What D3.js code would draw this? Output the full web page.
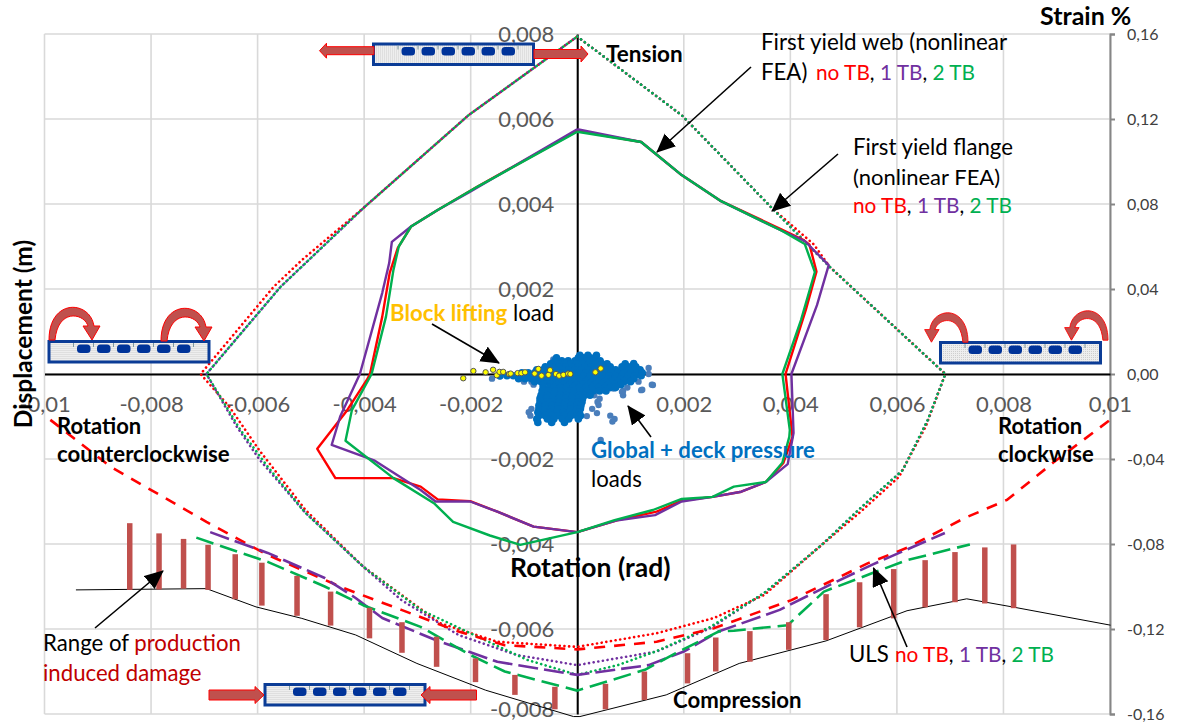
<!DOCTYPE html>
<html><head><meta charset="utf-8">
<script src="https://cdn.jsdelivr.net/npm/d3@7"></script>
<style>html,body{margin:0;padding:0;background:#fff}svg{display:block}text{font-family:Lato,"Open Sans",sans-serif}</style>
</head><body><svg id="c" width="1183" height="724"></svg>
<script>
// ---- axes ----
const xTicks=[-10,-8,-6,-4,-2,0,2,4,6,8,10];
const xTickLabels=["-0,01","-0,008","-0,006","-0,004","-0,002","0","0,002","0,004","0,006","0,008","0,01"];
const yTicks=[8,6,4,2,-2,-4,-6,-8];
const yTickLabels=["0,008","0,006","0,004","0,002","-0,002","-0,004","-0,006","-0,008"];
const strainTicks=[0.16,0.12,0.08,0.04,0,-0.04,-0.08,-0.12,-0.16];
const strainTickLabels=["0,16","0,12","0,08","0,04","0,00","-0,04","-0,08","-0,12","-0,16"];
// ---- first yield web, [rotation, displacement] in 0.001 units ----
const webNoTB=[[0,5.72],[1.2,5.46],[1.96,4.68],[2.68,4.08],[3.84,3.4],[4.25,3.15],[4.36,3.04],[4.49,2.41],[4.29,1.51],[3.91,0],[4.04,-1.48],[3.87,-2.09],[3.54,-2.54],[3.08,-2.77],[2.54,-2.89],[1.96,-2.98],[1.49,-3.24],[0.76,-3.44],[0,-3.72],[-0.82,-3.59],[-1.5,-3.24],[-2.01,-2.99],[-2.62,-2.95],[-2.94,-2.65],[-3.45,-2.45],[-4.54,-2.45],[-4.88,-1.76],[-4.34,-0.89],[-3.95,-0.14],[-3.89,0],[-3.66,1.35],[-3.52,2.38],[-3.37,2.96],[-3.12,3.47],[-2.62,3.86],[-1.87,4.41],[0,5.72]];
const web1TB=[[0,5.76],[1.2,5.46],[1.96,4.68],[2.68,4.08],[3.84,3.37],[4.27,3.13],[4.72,2.56],[4.5,1.62],[4.02,0],[4.06,-1.39],[3.95,-2.12],[3.54,-2.54],[3.08,-2.77],[2.54,-2.89],[1.96,-3],[1.46,-3.32],[0.76,-3.44],[0,-3.72],[-0.82,-3.59],[-1.5,-3.24],[-2.01,-3],[-2.66,-3],[-2.94,-2.73],[-3.8,-2.04],[-4.61,-1.67],[-4.45,-1],[-4.08,0],[-3.66,1.91],[-3.53,2.61],[-3.48,3.11],[-3.12,3.47],[-2.62,3.86],[-2.01,4.29],[0,5.76]];
const web2TB=[[0,5.7],[1.2,5.46],[1.96,4.68],[2.68,4.08],[3.84,3.37],[4.27,3.06],[4.46,2.4],[4.2,1.27],[3.85,0],[3.99,-1.32],[3.98,-1.48],[3.85,-2.09],[3.54,-2.54],[2.94,-2.65],[2.54,-2.89],[1.96,-2.94],[1.42,-3.2],[0.7,-3.44],[0,-3.72],[-1.07,-4.02],[-1.64,-3.8],[-2.33,-3.48],[-2.69,-3.04],[-3.45,-2.45],[-4.35,-1.57],[-4.23,-0.85],[-3.86,0],[-3.59,1.35],[-3.45,2.45],[-3.35,3],[-3.12,3.47],[-2.62,3.86],[-1.87,4.41],[0,5.7]];
// ---- first yield flange ----
const flangeNoTB=[[0,7.94],[1.96,6.09],[3.65,3.91],[4.44,3.05],[4.74,2.52],[6.91,0],[6.54,-1.24],[6.04,-2.42],[5.32,-3.24],[4.59,-4.02],[3.51,-5.2],[2.57,-5.74],[1.49,-6.1],[0,-6.42],[-1.5,-6.3],[-2.58,-5.86],[-4.02,-4.53],[-5.1,-3.2],[-5.97,-1.79],[-6.53,-0.77],[-7.07,0],[-5.7,2.05],[-5.17,2.68],[-4.01,3.91],[-2.04,6.09],[0,7.94]];
const flange1TB=[[0,7.94],[1.96,6.09],[3.65,3.91],[4.74,2.52],[6.91,0],[6.58,-1.08],[6.11,-2.26],[5.32,-3.15],[4.59,-4.02],[3.51,-5.15],[2.5,-5.98],[1.49,-6.53],[0,-6.85],[-1.14,-6.61],[-2.23,-6.14],[-3.3,-5.32],[-4.02,-4.53],[-5.1,-3.27],[-5.96,-2.02],[-6.39,-1.24],[-6.96,0],[-5.57,2.05],[-4.01,3.91],[-2.04,6.09],[0,7.94]];
const flange2TB=[[0,7.94],[1.96,6.09],[3.65,3.91],[4.74,2.52],[6.91,0],[6.58,-1.08],[6.11,-2.26],[5.32,-3.15],[4.59,-4.02],[3.51,-5.15],[2.5,-5.95],[1.49,-6.52],[0.76,-6.85],[0,-7.08],[-0.93,-6.73],[-1.87,-6.18],[-2.94,-5.55],[-4.02,-4.53],[-5.1,-3.27],[-5.81,-2.18],[-6.32,-1.32],[-6.96,0],[-5.57,2.05],[-4.01,3.91],[-2.04,6.09],[0,7.94]];
// ---- ULS ----
const ulsNoTB=[[-9.89,-1.08],[-8.76,-2.18],[-6.96,-3.48],[-5.81,-4.26],[-4.38,-5.04],[-3.3,-5.55],[-2.23,-6.06],[-1.36,-6.38],[0,-6.48],[1.49,-6.3],[2.57,-5.98],[4.02,-5.32],[5.46,-4.45],[6.19,-4.09],[7.27,-3.39],[8.07,-2.96],[8.93,-2.09],[10,-1.08]];
const uls1TB=[[-6.89,-3.72],[-5.81,-4.21],[-4.74,-4.8],[-4.16,-5.27],[-3.66,-5.74],[-2.66,-6.26],[-1.5,-6.77],[0,-7.08],[1.34,-6.85],[2,-6.53],[2.65,-6.06],[3.8,-5.55],[4.74,-4.96],[5.53,-4.49],[6.9,-3.74]];
const uls2TB=[[-7.15,-3.85],[-5.81,-4.42],[-4.74,-5],[-4.02,-5.44],[-2.94,-5.95],[-2.01,-6.61],[-1.36,-7],[0,-7.45],[1.27,-6.96],[1.85,-6.57],[2.65,-6.06],[2.94,-6.04],[3.95,-5.91],[4.63,-5.12],[5.53,-4.69],[6.19,-4.38],[7.37,-4.01]];
const lowerBound=[[-9.41,-5.08],[-6.96,-5.05],[-6.03,-5.48],[-5.17,-5.75],[-4.16,-6.14],[-3.01,-6.81],[-1.72,-7.44],[-0.07,-8.06],[0.05,-8.06],[1.67,-7.55],[3.04,-6.81],[4.67,-6.28],[6.19,-5.57],[7.31,-5.29],[8.21,-5.49],[10.01,-5.91]];
// ---- production damage range: [rotation, top, bottom] ----
const damageRange=[[-8.4,-3.51,-5.08],[-7.85,-3.75,-5.07],[-7.39,-3.88,-5.05],[-6.93,-4.02,-5.08],[-6.42,-4.24,-5.3],[-5.92,-4.44,-5.45],[-5.26,-4.75,-5.69],[-4.63,-5.12,-5.92],[-3.9,-5.5,-6.22],[-3.29,-5.84,-6.56],[-2.64,-6.18,-6.89],[-1.91,-6.69,-7.25],[-1.17,-7.08,-7.55],[-0.42,-7.36,-7.89],[0.53,-7.29,-7.89],[1.26,-7,-7.67],[2.07,-6.57,-7.28],[2.6,-6.2,-7],[3.24,-6.05,-6.77],[3.97,-5.84,-6.49],[4.67,-5.18,-6.26],[5.3,-4.9,-5.96],[5.94,-4.59,-5.75],[6.53,-4.38,-5.49],[7.09,-4.19,-5.37],[7.65,-4.08,-5.4],[8.19,-4.01,-5.51]];
// ---- load scatter, rows of [displacement, rotations] in 0.0001 units ----
const globalRows=[
[4.4,[0.5,2,3.6]],[3.8,[-3.9,0.2,1.2,2.4,3.3]],[3.1,[-4.2,-2.9,-1.7,-0.4,0.6,1.8,3,4.3]],
[2.4,[-5,-3.6,-2.4,-1.2,-0.2,1,2.2,3.4,4.6,5.6,9,10.6]],
[1.7,[-6,-4.6,-3.4,-2.2,-1,0.2,1.4,2.6,3.8,5,6.2,8.4,9.6,11]],
[1,[-7.6,-6.4,-5.2,-4,-2.8,-1.6,-0.4,0.8,2,3.2,4.4,5.6,6.4,7.2,8.4,9.6,10.8,11.8]],
[0.3,[-10.4,-9.2,-8,-6.8,-5.6,-4.4,-3.2,-2,-0.8,0.4,1.6,2.8,4,5.2,6.4,7.6,8.8,10,11.2,12.2]],
[-0.4,[-14.5,-13.2,-12,-10.8,-9.6,-8.4,-7.2,-6,-4.8,-3.6,-2.4,-1.2,0,1.2,2.4,3.6,4.8,6,7.2,8.4,9.6,10.8,12]],
[-1.1,[-11,-9.8,-8.6,-7.4,-6.2,-5,-3.8,-2.6,-1.4,-0.2,1,2.2,3.4,4.6,5.8,7,8.2,9.4,10.6]],
[-1.8,[-8,-6.8,-5.6,-4.4,-3.2,-2,-0.8,0.4,1.6,2.8,4,5.2,6.4,7.6,8.8,10]],
[-2.5,[-6.4,-5,-3.8,-2.6,-1.4,-0.2,1,2.2,3.4,4.6,5.8,7,8.2]],
[-3.2,[-6.4,-5.2,-4.4,-3.2,-2,-0.8,0.4,1.6,2.8,4,5.2,6.2,7.2]],
[-4,[-6.6,-5.4,-4.2,-3,-1.8,-0.6,0.6,1.8,3,4.2,5.4]],
[-5,[-6.8,-5.6,-4.4,-3.2,-2,-0.8,0.4,1.4,2.4]],[-5.8,[-7,-5.8,-4.6,-3.4,-2.2,-1,0.2,1]],
[-6.6,[-7,-5.8,-4.6,-3.4,-2.2,-1,0.2,0.9]],[-7.4,[-7.2,-6,-4.8,-3.6,-2.4,-1.2,0,0.7]],
[-8.2,[-7.2,-6,-4.8,-3.6,-2.4,-1.2,0,0.6]],[-9,[-7.4,-6.2,-5,-3.8,-2.6,-1.4,-0.2,0.4]],
[-9.8,[-7.2,-6,-4.8,-3.6,-2.4,-1.2,0,0.6]],[-10.6,[-7.6,-5.6,-4.4,-2.8,-1.6,0.2]],[-11.4,[-7.4,-4.8,-2.4]]];
const globalOutliers=[[-4.5,3.4],[-4,2.8],[-3,2.6],[-8.6,-1.8],[-10,-1.8],[-8.2,-2.5],[-14.5,-0.6],[-16,-1.1],[-8.6,-8.2],[-9.1,-9],[-8.8,-9.8],[-7.4,-11],[6.6,-11.2],[4.4,-15.5],[4,-7.3],[3.7,-9.2],[8.4,-4.2],[14.2,-2.6],[12,-3.8],[13.4,0],[10.6,2.6],[13.4,1.4],[9,2.1],[1.8,-9.9],[3.8,-6.6],[4.2,-5.8],[3.2,-5],[8.6,-5],[8.6,-4],[14,-2.5],[12.2,-3.7],[6.2,-9.8],[7,-10.6],[2.8,-8.2],[6.8,-3.4],[9.4,-3.2],[11.5,-1.8]];
const blockLifting=[[-21.4,-1],[-19.5,0.7],[-17.2,0.4],[-15.8,1],[-15.1,-0.3],[-14.6,0.5],[-13.9,0.5],[-12.8,0],[-12.5,0.1],[-11.2,0.2],[-10.5,0.2],[-9.8,0.4],[-8,0.1],[-7.3,1.2],[-6.7,-0.4],[-5.4,-0.2],[-5.1,0.9],[-4,0],[-3.4,-0.4],[-2.6,-0.2],[-1.7,0.1],[-1.3,0],[3.4,0.4],[4.4,1.3]];

const RED="#ff0000",PURPLE="#7030a0",GREEN="#00b050",BROWN="#c0504d",BLUE="#0070c0",NAVY="#0b3c96";
const svg=d3.select("#c");
const x=d3.scaleLinear().domain([-10,10]).range([44.5,1110]);
const y=d3.scaleLinear().domain([-8,8]).range([714,34]);
const s=d3.scaleLinear().domain([-0.16,0.16]).range([714,34]);
const line=d3.line().x(d=>x(d[0])).y(d=>y(d[1]));

// grid
const gridG=svg.append("g");
gridG.selectAll("line.v").data(xTicks).join("line").attr("x1",d=>x(d)).attr("x2",d=>x(d)).attr("y1",y(8)).attr("y2",y(-8)).attr("stroke","#d9d9d9").attr("stroke-width",1.6);
gridG.selectAll("line.h").data([8,6,4,2,0,-2,-4,-6,-8]).join("line").attr("x1",x(-10)).attr("x2",x(10)).attr("y1",d=>y(d)).attr("y2",d=>y(d)).attr("stroke","#d9d9d9").attr("stroke-width",1.6);

// right strain axis
const rAxis=d3.axisRight(s).tickValues(strainTicks).tickFormat((d,i)=>strainTickLabels[i]).tickSize(5).tickPadding(12);
const rg=svg.append("g").attr("transform",`translate(${x(10)},0)`).call(rAxis);
rg.selectAll("path,line").attr("stroke","#868686").attr("stroke-width",2);
rg.selectAll("text").attr("font-size",16).attr("fill","#404040").attr("font-family","Lato");

// centre axes labels
const bAxis=d3.axisBottom(x).tickValues(xTicks).tickFormat((d,i)=>xTickLabels[i]).tickSize(0).tickPadding(22);
const bg=svg.append("g").attr("transform",`translate(0,${y(0)})`).call(bAxis);
bg.select("path").attr("stroke","#000").attr("stroke-width",2);
bg.selectAll("text").attr("font-size",22).attr("fill","#595959").attr("font-family","Lato");
const lAxis=d3.axisLeft(y).tickValues(yTicks).tickFormat((d,i)=>yTickLabels[i]).tickSize(0).tickPadding(23);
const lg=svg.append("g").attr("transform",`translate(${x(0)},0)`).call(lAxis);
lg.select("path").attr("stroke","#000").attr("stroke-width",2);
lg.selectAll("text").attr("font-size",22).attr("fill","#595959").attr("font-family","Lato");
lg.selectAll(".tick").filter(d=>d===-8).select("text").attr("dy","0.1em");

// series
function draw(d,c,w,dash,cap,off){svg.append("path").datum(d).attr("d",line).attr("fill","none").attr("stroke",c).attr("stroke-width",w).attr("stroke-dasharray",dash||null).attr("stroke-dashoffset",off||0).attr("stroke-linecap",cap||"butt").attr("stroke-linejoin","round");}
draw(lowerBound,"#000",1);
draw(flangeNoTB,RED,2.6,"0.1 4.6","round");
draw(flange1TB,PURPLE,2.6,"0.1 4.6","round");
draw(flange2TB,GREEN,2.6,"0.1 4.6","round");
draw(webNoTB,RED,2.4);draw(web1TB,PURPLE,2.4);draw(web2TB,GREEN,2.4);
draw(ulsNoTB,RED,2.6,"11 9");draw(uls1TB,PURPLE,2.6,"20 6");draw(uls2TB,GREEN,2.6,"18 7");
svg.append("g").selectAll("line").data(damageRange).join("line")
 .attr("x1",d=>x(d[0])).attr("x2",d=>x(d[0])).attr("y1",d=>y(d[1])).attr("y2",d=>y(d[2])).attr("stroke",BROWN).attr("stroke-width",5.5);

// scatter
const sc=svg.append("g");
sc.selectAll("circle.o").data(globalOutliers).join("circle").attr("class","o").attr("cx",d=>x(d[0]/10)).attr("cy",d=>y(d[1]/10)).attr("r",3.2).attr("fill","#4a7ebb");
const flat=globalRows.flatMap(r=>r[1].map(v=>[v,r[0]]));
sc.selectAll("circle.m").data(flat).join("circle").attr("class","m").attr("cx",d=>x(d[0]/10)).attr("cy",d=>y(d[1]/10)).attr("r",3.8).attr("fill",BLUE);
sc.selectAll("circle.y").data(blockLifting).join("circle").attr("class","y").attr("cx",d=>x(d[0]/10)).attr("cy",d=>y(d[1]/10)).attr("r",2.7).attr("fill","#ffff00").attr("stroke","#555").attr("stroke-width",1);

// deck cross-section icons
const defs=svg.append("defs");
const pat=defs.append("pattern").attr("id","mesh").attr("width",2).attr("height",2).attr("patternUnits","userSpaceOnUse");
pat.append("rect").attr("width",2).attr("height",2).attr("fill","#eeeeee");
pat.append("rect").attr("width",1).attr("height",1).attr("fill","#cfcfcf");
function deck(px,py){
 const g=svg.append("g").attr("transform",`translate(${px},${py})`);
 g.append("rect").attr("x",1.5).attr("y",1.5).attr("width",160).attr("height",20.5).attr("fill","url(#mesh)").attr("stroke",NAVY).attr("stroke-width",3);
 g.selectAll("line").data([0,1,2,3,4,5,6]).join("line").attr("x1",i=>26+20*i).attr("x2",i=>26+20*i).attr("y1",3).attr("y2",7).attr("stroke","#7f9aa0").attr("stroke-width",1);
 g.selectAll("rect.c").data([0,1,2,3,4,5]).join("rect").attr("class","c").attr("x",i=>29.5+20*i).attr("y",4.5).attr("width",13.5).attr("height",8.5).attr("rx",3.5).attr("fill","#003399");
}
deck(372,42.5);deck(47.5,340);deck(939,341);deck(263.5,683);
function fat(x0,x1,cy,bh,hh,hl){
 const d=x1>x0?1:-1, b=x1-d*hl;
 svg.append("polygon").attr("points",[[x0,cy-bh/2],[b,cy-bh/2],[b,cy-hh/2],[x1,cy],[b,cy+hh/2],[b,cy+bh/2],[x0,cy+bh/2]].join(" ")).attr("fill",BROWN).attr("stroke",RED).attr("stroke-width",1);
}
fat(374,319.5,50.7,8,15,7);fat(534,588,54,9,16,7);fat(209,264,695,10,17,9);fat(476.5,421,695,10,17,9);
function curl(tf){
 svg.append("path").attr("transform",tf).attr("d","M49,340 C49,298 90,300 94,326 L100,326 L92,340 L83,326 L88,326 C84,313 58,308 55,340 Z").attr("fill",BROWN).attr("stroke",RED).attr("stroke-width",1);
}
curl("translate(0,0)");curl("translate(112,1)");
curl("translate(968,2) scale(-0.85,0.9) translate(-49,38)");curl("translate(1108,0) scale(-0.85,0.9) translate(-49,38)");

// pointer arrows
defs.append("marker").attr("id","ah").attr("markerUnits","userSpaceOnUse").attr("markerWidth",20).attr("markerHeight",18).attr("refX",18).attr("refY",8.5).attr("orient","auto")
 .append("path").attr("d","M0,0 L19,8.5 L0,17 Z").attr("fill","#000");
function ptr(a,b,c,d){svg.append("line").attr("x1",a).attr("y1",b).attr("x2",c).attr("y2",d).attr("stroke","#000").attr("stroke-width",1.6).attr("marker-end","url(#ah)");}
ptr(751,67,657,152);ptr(838,154,772,211);ptr(432,324,499,363);ptr(651,437,628,406);ptr(95,628,163,571);ptr(907,647,873.5,568);

// text
function txt(px,py,parts,size,bold,anchor){
 const t=svg.append("text").attr("x",px).attr("y",py).attr("font-size",size).attr("font-weight",bold?700:400).attr("text-anchor",anchor||"start").attr("xml:space","preserve").style("white-space","pre");
 parts.forEach(p=>t.append("tspan").attr("fill",p[1]||"#000").text(p[0]));return t;
}
const tb=[["no TB",RED],[", "],["1 TB",PURPLE],[", "],["2 TB",GREEN]];
txt(1040,25,[["Strain %"]],25,true);
txt(606,62,[["Tension"]],22.5,true);
txt(761,50,[["First yield web (nonlinear"]],22.4);
txt(761,80,[["FEA)"]],22.2);
txt(816,80,tb,20.8);
txt(853,155,[["First yield flange"]],22.2);
txt(853,185,[["(nonlinear FEA)"]],22);
txt(853,213,tb,20.8);
txt(390,321,[["Block lifting","#ffc000"]],22.2,true);
txt(513,321,[["load"]],22.2);
txt(591,458,[["Global + deck pressure",BLUE]],22.2,true);
txt(591,487,[["loads"]],22.2);
txt(57,434,[["Rotation"]],22,true);
txt(57,462,[["counterclockwise"]],22.2,true);
txt(998,434,[["Rotation"]],22,true);
txt(998,462,[["clockwise"]],22,true);
txt(43,651,[["Range of "],["production","#c00000"]],22.2);
txt(43,681,[["induced damage","#c00000"]],22.2);
txt(849,662,[["ULS"]],22.2);
txt(895,662,tb,20.8);
txt(673,708,[["Compression"]],22.2,true);
txt(510,577,[["Rotation (rad)"]],26.5,true);
txt(0,0,[["Displacement (m)"]],24.5,true,"middle").attr("transform","translate(32,334) rotate(-90)");
</script></body></html>
